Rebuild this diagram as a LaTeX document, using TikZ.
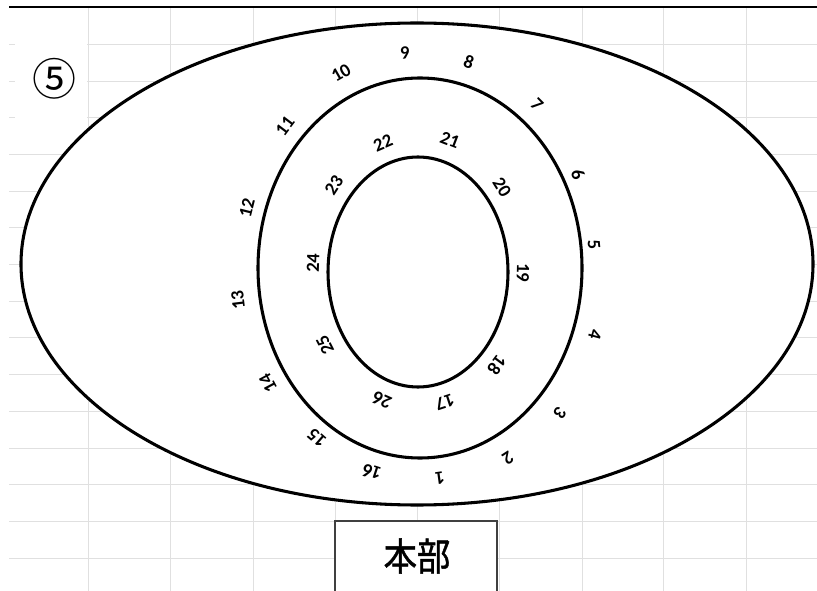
\documentclass[tikz,border=0pt]{standalone}
\usepackage{fontspec}
\setmainfont{Carlito}[BoldFont={Carlito Bold}]
\newfontfamily\cjk{Noto Sans CJK JP}
\newfontfamily\cjkb[FakeBold=1.2]{Noto Sans CJK JP}
\begin{document}
\begin{tikzpicture}[x=0.75pt,y=-0.75pt,
  ring/.style={draw=black,line width=2.3pt,fill=white},
  num/.style={font=\fontsize{14}{14}\selectfont\bfseries,inner sep=0pt},
  gridline/.style={draw=black!12,line width=0.75pt}]
\useasboundingbox (0,0) rectangle (817,591);
\fill[white] (0,0) rectangle (817,591);
% spreadsheet grid
\foreach \y in {45,82,118,155,192,228,265,302,338,375,411,448,484,521,558}
  \draw[gridline] (9,\y) -- (817,\y);
\foreach \x in {88,170,253,335,417,499,582,663,746}
  \draw[gridline] (\x,8) -- (\x,591);
\fill[white] (15,38) rectangle (87,130);
\draw[line width=1.5pt] (9,7.5) -- (817,7.5);
% ellipses
\draw[ring] (417,264) ellipse [x radius=396, y radius=241];
\draw[ring] (420,268) ellipse [x radius=162, y radius=190];
\draw[ring] (418,272) ellipse [x radius=90, y radius=115];
% ring numbers
\foreach \t/\px/\py/\r in {1/440/478/-172, 2/508/458/-147, 3/560/413/-126, 4/595/335/-105,
  5/594/245/-85, 6/578/174/-67, 7/537/105/-45, 8/469/62/-19, 9/405/53/6, 10/341/73/30,
  11/285/126/53, 12/247/208/76, 13/238/300/97, 14/268/383/118, 15/317/438/139, 16/372/472/162,
  17/445/402/-162, 18/497/365/-127, 19/523/273/-91, 20/502/187/-58, 21/450/140/-21,
  22/383/143/23, 23/334/185/57, 24/313/263/88, 25/325/345/117, 26/382/400/156}
  \node[num,rotate=\r] (n\t) at (\px,\py) {\t};
% title mark
\node[font=\cjk\fontsize{33}{33}\selectfont,inner sep=0pt] (mark) at (54,79) {⑤};
% headquarters box
\draw[draw=black!75,line width=1.5pt,fill=white] (335,595) -- (335,521) -- (497,521) -- (497,595);
\node[font=\cjkb\fontsize{25}{25}\selectfont,yscale=1.15,inner sep=0pt] (hq) at (417,556) {本部};
\end{tikzpicture}
\end{document}
